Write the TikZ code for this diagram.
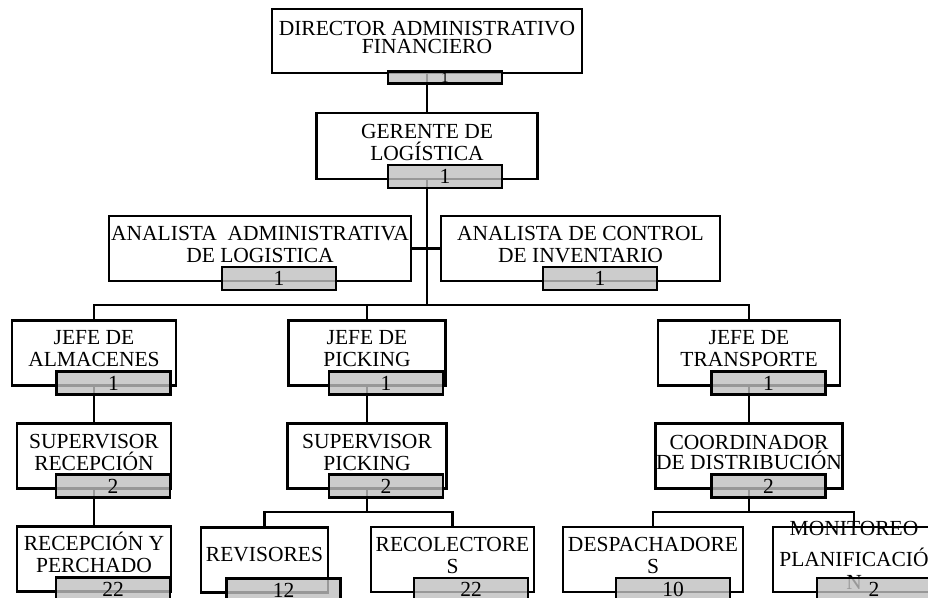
\documentclass[tikz,border=0pt]{standalone}
\usepackage{fontspec}
\setmainfont{Liberation Serif}
\usetikzlibrary{positioning}

\tikzset{
  puesto/.style={draw, line width=2.8pt, minimum height=65pt, inner sep=0pt},
  titulo/.style={align=center, inner sep=0pt, yshift=4pt,
    font=\fontsize{21.5}{22}\selectfont},
  cantidad/.style={draw, line width=2.8pt, fill=black!25, fill opacity=0.8,
    text opacity=1, minimum width=114pt, minimum height=23pt, inner sep=0pt,
    text height=14.5pt, text depth=0pt, font=\fontsize{21.5}{22}\selectfont},
  linea/.style={line width=2.8pt}
}

\begin{document}
\begin{tikzpicture}[x=1pt,y=-1pt]
\clip (0,0) rectangle (928,597);

% cajas de los puestos
\node[puesto, minimum width=310pt, minimum height=64pt] (dir) at (427,41) {};
\node[puesto, minimum width=221pt, minimum height=66pt] (ger) at (427,146) {};
\node[puesto, minimum width=302pt] (ana1) at (260,248.5) {};
\node[puesto, minimum width=279pt] (ana2) at (580.5,248.5) {};
\node[puesto, minimum width=164pt] (jalm) at (94,353) {};
\node[puesto, minimum width=157pt] (jpic) at (367,353) {};
\node[puesto, minimum width=182pt] (jtra) at (749,353) {};
\node[puesto, minimum width=154pt] (srec) at (94,456) {};
\node[puesto, minimum width=159pt] (spic) at (367,456) {};
\node[puesto, minimum width=187pt] (coor) at (749,456) {};
\node[puesto, minimum width=154pt] (rper) at (94,559) {};
\node[puesto, minimum width=127pt] (rev) at (264.5,560) {};
\node[puesto, minimum width=163pt] (rcol) at (452.5,559.5) {};
\node[puesto, minimum width=180pt] (desp) at (653,559.5) {};
\node[puesto, minimum width=162pt] (moni) at (854,559.5) {};

% textos
\node[titulo, yshift=-0.5pt] (dir-t) at (dir) {DIRECTOR ADMINISTRATIVO\\[-4pt]FINANCIERO};
\node[titulo] (ger-t) at (ger) {GERENTE DE\\LOGÍSTICA};
\node[titulo] (ana1-t) at (ana1) {ANALISTA \ ADMINISTRATIVA\\DE LOGISTICA};
\node[titulo] (ana2-t) at (ana2) {ANALISTA DE CONTROL\\DE INVENTARIO};
\node[titulo] (jalm-t) at (jalm) {JEFE DE\\ALMACENES};
\node[titulo] (jpic-t) at (jpic) {JEFE DE\\PICKING};
\node[titulo] (jtra-t) at (jtra) {JEFE DE\\TRANSPORTE};
\node[titulo] (srec-t) at (srec) {SUPERVISOR\\RECEPCIÓN};
\node[titulo] (spic-t) at (spic) {SUPERVISOR\\PICKING};
\node[titulo] (coor-t) at (coor) {COORDINADOR\\[-2pt]DE DISTRIBUCIÓN};
\node[titulo, yshift=2.5pt] (rper-t) at (rper) {RECEPCIÓN Y\\PERCHADO};
\node[titulo, yshift=1pt] (rev-t) at (rev) {REVISORES};
\node[titulo] (rcol-t) at (rcol) {RECOLECTORE\\S};
\node[titulo] (desp-t) at (desp) {DESPACHADORE\\S};
\node[titulo] (moni-t) at (moni) {MONITOREO\\[9pt]PLANIFICACIÓ\\[1pt]N};

% lineas de mando
\coordinate (tronco) at (427,305);
\coordinate (picking) at (367,512);
\coordinate (distrib) at (749,512);
\draw[linea] (dir.south) -- (ger.north);
\draw[linea] (ger.south) -- (tronco);
\draw[linea] (ana1.east) -- (ana1.east -| tronco);
\draw[linea] (ana2.west) -- (ana2.west -| tronco);
\draw[linea] (jalm.north) |- (tronco) -| (jtra.north);
\draw[linea] (jpic.north) -- (jpic.north |- tronco);
\draw[linea] (jalm.south) -- (srec.north);
\draw[linea] (srec.south) -- (rper.north);
\draw[linea] (jpic.south) -- (spic.north);
\draw[linea] (spic.south) -- (picking);
\draw[linea] (rev.north) |- (picking) -| (rcol.north);
\draw[linea] (jtra.south) -- (coor.north);
\draw[linea] (coor.south) -- (distrib);
\draw[linea] (desp.north) |- (distrib) -| (moni.north);

% cantidad de personas
\node[cantidad, minimum height=12pt, text height=10pt,
  font=\fontsize{14.5}{15}\selectfont] (dir-n) at ([xshift=18pt,yshift=-3pt]dir.south) {1};
\node[cantidad] (ger-n) at ([xshift=18pt,yshift=4pt]ger.south) {1};
\node[cantidad] (ana1-n) at ([xshift=19pt,yshift=4pt]ana1.south) {1};
\node[cantidad] (ana2-n) at ([xshift=19.5pt,yshift=4pt]ana2.south) {1};
\node[cantidad] (jalm-n) at ([xshift=19.5pt,yshift=4pt]jalm.south) {1};
\node[cantidad] (jpic-n) at ([xshift=19pt,yshift=4pt]jpic.south) {1};
\node[cantidad] (jtra-n) at ([xshift=19.5pt,yshift=4pt]jtra.south) {1};
\node[cantidad] (srec-n) at ([xshift=19pt,yshift=4pt]srec.south) {2};
\node[cantidad] (spic-n) at ([xshift=19pt,yshift=4pt]spic.south) {2};
\node[cantidad] (coor-n) at ([xshift=19.5pt,yshift=4pt]coor.south) {2};
\node[cantidad] (rper-n) at ([xshift=19pt,yshift=4pt]rper.south) {22};
\node[cantidad] (rev-n) at ([xshift=19pt,yshift=4pt]rev.south) {12};
\node[cantidad] (rcol-n) at ([xshift=18.5pt,yshift=4pt]rcol.south) {22};
\node[cantidad] (desp-n) at ([xshift=20pt,yshift=4pt]desp.south) {10};
\node[cantidad] (moni-n) at ([xshift=20pt,yshift=4pt]moni.south) {2};
\end{tikzpicture}
\end{document}
